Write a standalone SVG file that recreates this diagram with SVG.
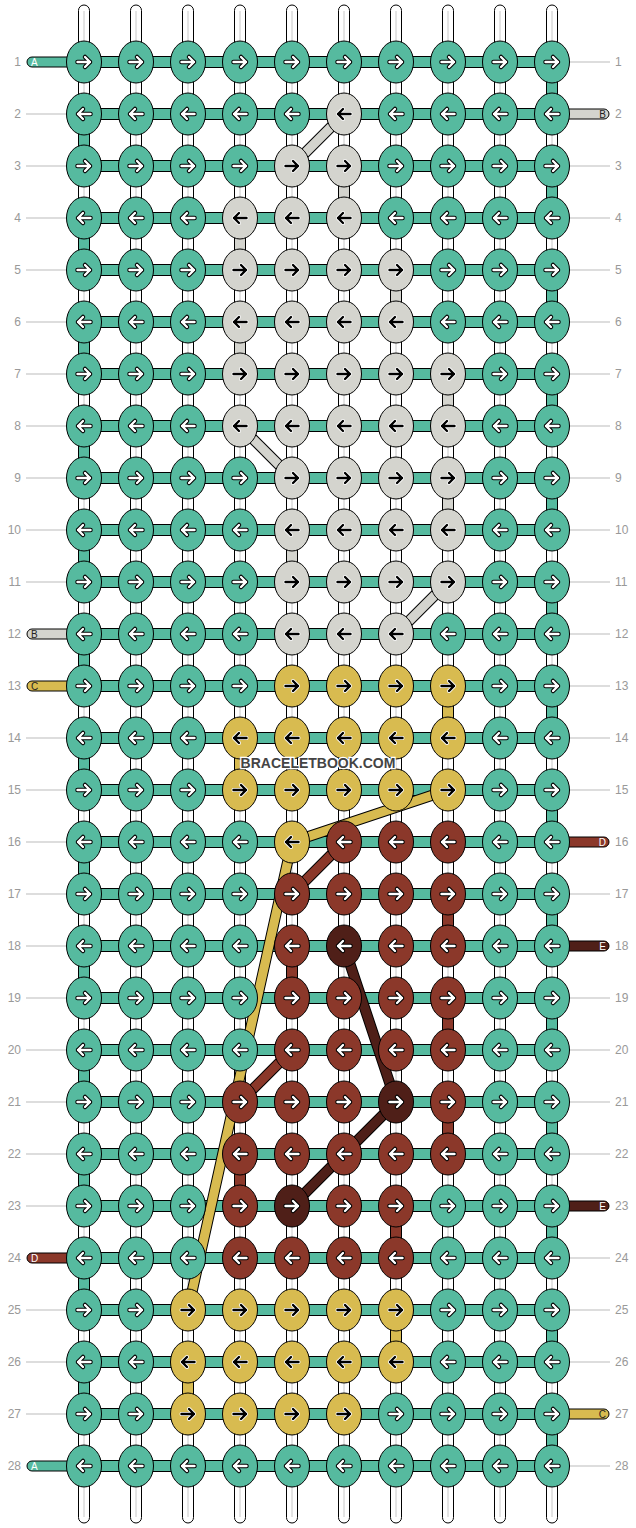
<svg xmlns="http://www.w3.org/2000/svg" xmlns:xlink="http://www.w3.org/1999/xlink" width="636" height="1528" viewBox="0 0 636 1528">
<style>
.t{fill:#56BA9F}.g{fill:#D4D4CE}.y{fill:#D8BB50}.r{fill:#8B382A}.d{fill:#4F1F18}
.ln{font-family:"Liberation Sans",Arial,sans-serif;font-size:12px;fill:#999}
.le{text-anchor:end}
.gl{stroke:#bbb;stroke-width:1}
.wp{fill:#fff;stroke:#000;stroke-width:1}
.wc{stroke:#c8c8c8;stroke-width:1}
.hb{fill:#56BA9F;stroke:#000;stroke-width:1}
.vs{stroke:#000;stroke-width:1}
.tl{stroke:#000;stroke-width:1}
.tt{font-family:"Liberation Sans",Arial,sans-serif;font-size:10px}
.ko{fill:none;stroke:#000;stroke-width:11;stroke-linejoin:round}
.kg{fill:none;stroke:#D4D4CE;stroke-width:9;stroke-linejoin:round}
.ky{fill:none;stroke:#D8BB50;stroke-width:9;stroke-linejoin:round}
.kr{fill:none;stroke:#8B382A;stroke-width:9;stroke-linejoin:round}
.kd{fill:none;stroke:#4F1F18;stroke-width:9;stroke-linejoin:round}
.wm{font-family:"Liberation Sans",Arial,sans-serif;font-size:14px;font-weight:bold;fill:#444;stroke:#fff;stroke-width:2.5;paint-order:stroke;text-anchor:middle}
</style>
<defs>
<ellipse id="E" cx="0" cy="0" rx="17.5" ry="21" stroke="#000" stroke-width="1"/>
<g id="Rw" fill="none" stroke-linecap="round" stroke-linejoin="round"><path d="M-6.5,0H6M1,-5L6,0L1,5" stroke="#000" stroke-width="4.5"/><path d="M-6.5,0H6M1,-5L6,0L1,5" stroke="#fff" stroke-width="2.4"/></g>
<g id="Lw" fill="none" stroke-linecap="round" stroke-linejoin="round"><path d="M6.5,0H-6M-1,-5L-6,0L-1,5" stroke="#000" stroke-width="4.5"/><path d="M6.5,0H-6M-1,-5L-6,0L-1,5" stroke="#fff" stroke-width="2.4"/></g>
<g id="Rb" fill="none" stroke-linecap="round" stroke-linejoin="round"><path d="M-6.5,0H6M1,-5L6,0L1,5" stroke="#fff" stroke-width="4"/><path d="M-6.5,0H6M1,-5L6,0L1,5" stroke="#000" stroke-width="2.4"/></g>
<g id="Lb" fill="none" stroke-linecap="round" stroke-linejoin="round"><path d="M6.5,0H-6M-1,-5L-6,0L-1,5" stroke="#fff" stroke-width="4"/><path d="M6.5,0H-6M-1,-5L-6,0L-1,5" stroke="#000" stroke-width="2.4"/></g>
</defs>
<rect width="636" height="1528" fill="#fff"/>
<g id="labels">
<text class="ln le" x="21" y="66">1</text><text class="ln le" x="21" y="118">2</text><text class="ln le" x="21" y="170">3</text><text class="ln le" x="21" y="222">4</text><text class="ln le" x="21" y="274">5</text><text class="ln le" x="21" y="326">6</text><text class="ln le" x="21" y="378">7</text><text class="ln le" x="21" y="430">8</text><text class="ln le" x="21" y="482">9</text><text class="ln le" x="21" y="534">10</text><text class="ln le" x="21" y="586">11</text><text class="ln le" x="21" y="638">12</text><text class="ln le" x="21" y="690">13</text><text class="ln le" x="21" y="742">14</text><text class="ln le" x="21" y="794">15</text><text class="ln le" x="21" y="846">16</text><text class="ln le" x="21" y="898">17</text><text class="ln le" x="21" y="950">18</text><text class="ln le" x="21" y="1002">19</text><text class="ln le" x="21" y="1054">20</text><text class="ln le" x="21" y="1106">21</text><text class="ln le" x="21" y="1158">22</text><text class="ln le" x="21" y="1210">23</text><text class="ln le" x="21" y="1262">24</text><text class="ln le" x="21" y="1314">25</text><text class="ln le" x="21" y="1366">26</text><text class="ln le" x="21" y="1418">27</text><text class="ln le" x="21" y="1470">28</text>
<text class="ln" x="615" y="66">1</text><text class="ln" x="615" y="118">2</text><text class="ln" x="615" y="170">3</text><text class="ln" x="615" y="222">4</text><text class="ln" x="615" y="274">5</text><text class="ln" x="615" y="326">6</text><text class="ln" x="615" y="378">7</text><text class="ln" x="615" y="430">8</text><text class="ln" x="615" y="482">9</text><text class="ln" x="615" y="534">10</text><text class="ln" x="615" y="586">11</text><text class="ln" x="615" y="638">12</text><text class="ln" x="615" y="690">13</text><text class="ln" x="615" y="742">14</text><text class="ln" x="615" y="794">15</text><text class="ln" x="615" y="846">16</text><text class="ln" x="615" y="898">17</text><text class="ln" x="615" y="950">18</text><text class="ln" x="615" y="1002">19</text><text class="ln" x="615" y="1054">20</text><text class="ln" x="615" y="1106">21</text><text class="ln" x="615" y="1158">22</text><text class="ln" x="615" y="1210">23</text><text class="ln" x="615" y="1262">24</text><text class="ln" x="615" y="1314">25</text><text class="ln" x="615" y="1366">26</text><text class="ln" x="615" y="1418">27</text><text class="ln" x="615" y="1470">28</text>
<path class="gl" d="M26,114H66M26,166H66M26,218H66M26,270H66M26,322H66M26,374H66M26,426H66M26,478H66M26,530H66M26,582H66M26,738H66M26,790H66M26,842H66M26,894H66M26,946H66M26,998H66M26,1050H66M26,1102H66M26,1154H66M26,1206H66M26,1310H66M26,1362H66M26,1414H66"/>
<path class="gl" d="M570,62H610M570,166H610M570,218H610M570,270H610M570,322H610M570,374H610M570,426H610M570,478H610M570,530H610M570,582H610M570,634H610M570,686H610M570,738H610M570,790H610M570,894H610M570,998H610M570,1050H610M570,1102H610M570,1154H610M570,1258H610M570,1310H610M570,1362H610M570,1466H610"/>
</g>
<g id="connectors">
<g id="warps">
<rect class="wp" x="78.5" y="5" width="11" height="1518" rx="5.5"/><rect class="wp" x="130.5" y="5" width="11" height="1518" rx="5.5"/><rect class="wp" x="182.5" y="5" width="11" height="1518" rx="5.5"/><rect class="wp" x="234.5" y="5" width="11" height="1518" rx="5.5"/><rect class="wp" x="286.5" y="5" width="11" height="1518" rx="5.5"/><rect class="wp" x="338.5" y="5" width="11" height="1518" rx="5.5"/><rect class="wp" x="390.5" y="5" width="11" height="1518" rx="5.5"/><rect class="wp" x="442.5" y="5" width="11" height="1518" rx="5.5"/><rect class="wp" x="494.5" y="5" width="11" height="1518" rx="5.5"/><rect class="wp" x="546.5" y="5" width="11" height="1518" rx="5.5"/>
<path class="wc" d="M84,11V1517M136,11V1517M188,11V1517M240,11V1517M292,11V1517M344,11V1517M396,11V1517M448,11V1517M500,11V1517M552,11V1517"/>
</g>
<g id="tails">
<rect class="tl t" x="27" y="57" width="62" height="10" rx="5"/><text class="tt" x="31" y="65.5" fill="#fff">A</text>
<rect class="tl g" x="27" y="629" width="62" height="10" rx="5"/><text class="tt" x="31" y="637.5" fill="#222">B</text>
<rect class="tl y" x="27" y="681" width="62" height="10" rx="5"/><text class="tt" x="31" y="689.5" fill="#222">C</text>
<rect class="tl r" x="27" y="1253" width="62" height="10" rx="5"/><text class="tt" x="31" y="1261.5" fill="#fff">D</text>
<rect class="tl t" x="27" y="1461" width="62" height="10" rx="5"/><text class="tt" x="31" y="1469.5" fill="#fff">A</text>
<rect class="tl g" x="547" y="109" width="62" height="10" rx="5"/><text class="tt" x="606" y="117.5" fill="#222" text-anchor="end">B</text>
<rect class="tl r" x="547" y="837" width="62" height="10" rx="5"/><text class="tt" x="606" y="845.5" fill="#fff" text-anchor="end">D</text>
<rect class="tl d" x="547" y="941" width="62" height="10" rx="5"/><text class="tt" x="606" y="949.5" fill="#fff" text-anchor="end">E</text>
<rect class="tl d" x="547" y="1201" width="62" height="10" rx="5"/><text class="tt" x="606" y="1209.5" fill="#fff" text-anchor="end">E</text>
<rect class="tl y" x="547" y="1409" width="62" height="10" rx="5"/><text class="tt" x="606" y="1417.5" fill="#222" text-anchor="end">C</text>
</g>
<g id="rows">
<rect class="hb" x="84" y="56.5" width="468" height="11"/><rect class="hb" x="84" y="108.5" width="468" height="11"/><rect class="hb" x="84" y="160.5" width="468" height="11"/><rect class="hb" x="84" y="212.5" width="468" height="11"/><rect class="hb" x="84" y="264.5" width="468" height="11"/><rect class="hb" x="84" y="316.5" width="468" height="11"/><rect class="hb" x="84" y="368.5" width="468" height="11"/><rect class="hb" x="84" y="420.5" width="468" height="11"/><rect class="hb" x="84" y="472.5" width="468" height="11"/><rect class="hb" x="84" y="524.5" width="468" height="11"/><rect class="hb" x="84" y="576.5" width="468" height="11"/><rect class="hb" x="84" y="628.5" width="468" height="11"/><rect class="hb" x="84" y="680.5" width="468" height="11"/><rect class="hb" x="84" y="732.5" width="468" height="11"/><rect class="hb" x="84" y="784.5" width="468" height="11"/><rect class="hb" x="84" y="836.5" width="468" height="11"/><rect class="hb" x="84" y="888.5" width="468" height="11"/><rect class="hb" x="84" y="940.5" width="468" height="11"/><rect class="hb" x="84" y="992.5" width="468" height="11"/><rect class="hb" x="84" y="1044.5" width="468" height="11"/><rect class="hb" x="84" y="1096.5" width="468" height="11"/><rect class="hb" x="84" y="1148.5" width="468" height="11"/><rect class="hb" x="84" y="1200.5" width="468" height="11"/><rect class="hb" x="84" y="1252.5" width="468" height="11"/><rect class="hb" x="84" y="1304.5" width="468" height="11"/><rect class="hb" x="84" y="1356.5" width="468" height="11"/><rect class="hb" x="84" y="1408.5" width="468" height="11"/><rect class="hb" x="84" y="1460.5" width="468" height="11"/>
</g>
<g id="turns">
<rect class="vs t" x="546.5" y="62" width="11" height="52"/><rect class="vs t" x="546.5" y="166" width="11" height="52"/><rect class="vs t" x="546.5" y="270" width="11" height="52"/><rect class="vs t" x="546.5" y="374" width="11" height="52"/><rect class="vs t" x="546.5" y="478" width="11" height="52"/><rect class="vs t" x="546.5" y="582" width="11" height="52"/><rect class="vs t" x="546.5" y="686" width="11" height="52"/><rect class="vs t" x="546.5" y="790" width="11" height="52"/><rect class="vs t" x="546.5" y="894" width="11" height="52"/><rect class="vs t" x="546.5" y="998" width="11" height="52"/><rect class="vs t" x="546.5" y="1102" width="11" height="52"/><rect class="vs t" x="546.5" y="1206" width="11" height="52"/><rect class="vs t" x="546.5" y="1310" width="11" height="52"/><rect class="vs t" x="546.5" y="1414" width="11" height="52"/>
<rect class="vs t" x="78.5" y="114" width="11" height="52"/><rect class="vs t" x="78.5" y="218" width="11" height="52"/><rect class="vs t" x="78.5" y="322" width="11" height="52"/><rect class="vs t" x="78.5" y="426" width="11" height="52"/><rect class="vs t" x="78.5" y="530" width="11" height="52"/><rect class="vs t" x="78.5" y="634" width="11" height="52"/><rect class="vs t" x="78.5" y="738" width="11" height="52"/><rect class="vs t" x="78.5" y="842" width="11" height="52"/><rect class="vs t" x="78.5" y="946" width="11" height="52"/><rect class="vs t" x="78.5" y="1050" width="11" height="52"/><rect class="vs t" x="78.5" y="1154" width="11" height="52"/><rect class="vs t" x="78.5" y="1258" width="11" height="52"/><rect class="vs t" x="78.5" y="1362" width="11" height="52"/>
<rect class="vs g" x="338.5" y="166" width="11" height="52"/><rect class="vs g" x="234.5" y="218" width="11" height="52"/><rect class="vs g" x="390.5" y="270" width="11" height="52"/><rect class="vs g" x="234.5" y="322" width="11" height="52"/><rect class="vs g" x="442.5" y="374" width="11" height="52"/><rect class="vs g" x="442.5" y="478" width="11" height="52"/><rect class="vs g" x="286.5" y="530" width="11" height="52"/>
<rect class="vs y" x="442.5" y="686" width="11" height="52"/><rect class="vs y" x="234.5" y="738" width="11" height="52"/><rect class="vs y" x="390.5" y="1310" width="11" height="52"/><rect class="vs y" x="182.5" y="1362" width="11" height="52"/>
<rect class="vs r" x="442.5" y="894" width="11" height="52"/><rect class="vs r" x="286.5" y="946" width="11" height="52"/><rect class="vs r" x="442.5" y="998" width="11" height="52"/><rect class="vs r" x="442.5" y="1102" width="11" height="52"/><rect class="vs r" x="234.5" y="1154" width="11" height="52"/><rect class="vs r" x="390.5" y="1206" width="11" height="52"/>
</g>
<g id="diagonals">
<path class="ko" d="M344,114L292,166"/><path class="kg" d="M344,114L292,166"/>
<path class="ko" d="M240,426L292,478"/><path class="kg" d="M240,426L292,478"/>
<path class="ko" d="M448,582L396,634"/><path class="kg" d="M448,582L396,634"/>
<path class="ko" d="M448,790L292,842L188,1310"/><path class="ky" d="M448,790L292,842L188,1310"/>
<path class="ko" d="M344,842L292,894"/><path class="kr" d="M344,842L292,894"/>
<path class="ko" d="M292,1050L240,1102"/><path class="kr" d="M292,1050L240,1102"/>
<path class="ko" d="M344,946L396,1102L292,1206"/><path class="kd" d="M344,946L396,1102L292,1206"/>
</g>
</g>
<g id="nodes">
<g id="n1-1"><use href="#E" x="84" y="62" class="t"/><use href="#Rw" x="84" y="62"/></g><g id="n1-2"><use href="#E" x="136" y="62" class="t"/><use href="#Rw" x="136" y="62"/></g><g id="n1-3"><use href="#E" x="188" y="62" class="t"/><use href="#Rw" x="188" y="62"/></g><g id="n1-4"><use href="#E" x="240" y="62" class="t"/><use href="#Rw" x="240" y="62"/></g><g id="n1-5"><use href="#E" x="292" y="62" class="t"/><use href="#Rw" x="292" y="62"/></g><g id="n1-6"><use href="#E" x="344" y="62" class="t"/><use href="#Rw" x="344" y="62"/></g><g id="n1-7"><use href="#E" x="396" y="62" class="t"/><use href="#Rw" x="396" y="62"/></g><g id="n1-8"><use href="#E" x="448" y="62" class="t"/><use href="#Rw" x="448" y="62"/></g><g id="n1-9"><use href="#E" x="500" y="62" class="t"/><use href="#Rw" x="500" y="62"/></g><g id="n1-10"><use href="#E" x="552" y="62" class="t"/><use href="#Rw" x="552" y="62"/></g>
<g id="n2-1"><use href="#E" x="84" y="114" class="t"/><use href="#Lw" x="84" y="114"/></g><g id="n2-2"><use href="#E" x="136" y="114" class="t"/><use href="#Lw" x="136" y="114"/></g><g id="n2-3"><use href="#E" x="188" y="114" class="t"/><use href="#Lw" x="188" y="114"/></g><g id="n2-4"><use href="#E" x="240" y="114" class="t"/><use href="#Lw" x="240" y="114"/></g><g id="n2-5"><use href="#E" x="292" y="114" class="t"/><use href="#Lw" x="292" y="114"/></g><g id="n2-6"><use href="#E" x="344" y="114" class="g"/><use href="#Lb" x="344" y="114"/></g><g id="n2-7"><use href="#E" x="396" y="114" class="t"/><use href="#Lw" x="396" y="114"/></g><g id="n2-8"><use href="#E" x="448" y="114" class="t"/><use href="#Lw" x="448" y="114"/></g><g id="n2-9"><use href="#E" x="500" y="114" class="t"/><use href="#Lw" x="500" y="114"/></g><g id="n2-10"><use href="#E" x="552" y="114" class="t"/><use href="#Lw" x="552" y="114"/></g>
<g id="n3-1"><use href="#E" x="84" y="166" class="t"/><use href="#Rw" x="84" y="166"/></g><g id="n3-2"><use href="#E" x="136" y="166" class="t"/><use href="#Rw" x="136" y="166"/></g><g id="n3-3"><use href="#E" x="188" y="166" class="t"/><use href="#Rw" x="188" y="166"/></g><g id="n3-4"><use href="#E" x="240" y="166" class="t"/><use href="#Rw" x="240" y="166"/></g><g id="n3-5"><use href="#E" x="292" y="166" class="g"/><use href="#Rb" x="292" y="166"/></g><g id="n3-6"><use href="#E" x="344" y="166" class="g"/><use href="#Rb" x="344" y="166"/></g><g id="n3-7"><use href="#E" x="396" y="166" class="t"/><use href="#Rw" x="396" y="166"/></g><g id="n3-8"><use href="#E" x="448" y="166" class="t"/><use href="#Rw" x="448" y="166"/></g><g id="n3-9"><use href="#E" x="500" y="166" class="t"/><use href="#Rw" x="500" y="166"/></g><g id="n3-10"><use href="#E" x="552" y="166" class="t"/><use href="#Rw" x="552" y="166"/></g>
<g id="n4-1"><use href="#E" x="84" y="218" class="t"/><use href="#Lw" x="84" y="218"/></g><g id="n4-2"><use href="#E" x="136" y="218" class="t"/><use href="#Lw" x="136" y="218"/></g><g id="n4-3"><use href="#E" x="188" y="218" class="t"/><use href="#Lw" x="188" y="218"/></g><g id="n4-4"><use href="#E" x="240" y="218" class="g"/><use href="#Lb" x="240" y="218"/></g><g id="n4-5"><use href="#E" x="292" y="218" class="g"/><use href="#Lb" x="292" y="218"/></g><g id="n4-6"><use href="#E" x="344" y="218" class="g"/><use href="#Lb" x="344" y="218"/></g><g id="n4-7"><use href="#E" x="396" y="218" class="t"/><use href="#Lw" x="396" y="218"/></g><g id="n4-8"><use href="#E" x="448" y="218" class="t"/><use href="#Lw" x="448" y="218"/></g><g id="n4-9"><use href="#E" x="500" y="218" class="t"/><use href="#Lw" x="500" y="218"/></g><g id="n4-10"><use href="#E" x="552" y="218" class="t"/><use href="#Lw" x="552" y="218"/></g>
<g id="n5-1"><use href="#E" x="84" y="270" class="t"/><use href="#Rw" x="84" y="270"/></g><g id="n5-2"><use href="#E" x="136" y="270" class="t"/><use href="#Rw" x="136" y="270"/></g><g id="n5-3"><use href="#E" x="188" y="270" class="t"/><use href="#Rw" x="188" y="270"/></g><g id="n5-4"><use href="#E" x="240" y="270" class="g"/><use href="#Rb" x="240" y="270"/></g><g id="n5-5"><use href="#E" x="292" y="270" class="g"/><use href="#Rb" x="292" y="270"/></g><g id="n5-6"><use href="#E" x="344" y="270" class="g"/><use href="#Rb" x="344" y="270"/></g><g id="n5-7"><use href="#E" x="396" y="270" class="g"/><use href="#Rb" x="396" y="270"/></g><g id="n5-8"><use href="#E" x="448" y="270" class="t"/><use href="#Rw" x="448" y="270"/></g><g id="n5-9"><use href="#E" x="500" y="270" class="t"/><use href="#Rw" x="500" y="270"/></g><g id="n5-10"><use href="#E" x="552" y="270" class="t"/><use href="#Rw" x="552" y="270"/></g>
<g id="n6-1"><use href="#E" x="84" y="322" class="t"/><use href="#Lw" x="84" y="322"/></g><g id="n6-2"><use href="#E" x="136" y="322" class="t"/><use href="#Lw" x="136" y="322"/></g><g id="n6-3"><use href="#E" x="188" y="322" class="t"/><use href="#Lw" x="188" y="322"/></g><g id="n6-4"><use href="#E" x="240" y="322" class="g"/><use href="#Lb" x="240" y="322"/></g><g id="n6-5"><use href="#E" x="292" y="322" class="g"/><use href="#Lb" x="292" y="322"/></g><g id="n6-6"><use href="#E" x="344" y="322" class="g"/><use href="#Lb" x="344" y="322"/></g><g id="n6-7"><use href="#E" x="396" y="322" class="g"/><use href="#Lb" x="396" y="322"/></g><g id="n6-8"><use href="#E" x="448" y="322" class="t"/><use href="#Lw" x="448" y="322"/></g><g id="n6-9"><use href="#E" x="500" y="322" class="t"/><use href="#Lw" x="500" y="322"/></g><g id="n6-10"><use href="#E" x="552" y="322" class="t"/><use href="#Lw" x="552" y="322"/></g>
<g id="n7-1"><use href="#E" x="84" y="374" class="t"/><use href="#Rw" x="84" y="374"/></g><g id="n7-2"><use href="#E" x="136" y="374" class="t"/><use href="#Rw" x="136" y="374"/></g><g id="n7-3"><use href="#E" x="188" y="374" class="t"/><use href="#Rw" x="188" y="374"/></g><g id="n7-4"><use href="#E" x="240" y="374" class="g"/><use href="#Rb" x="240" y="374"/></g><g id="n7-5"><use href="#E" x="292" y="374" class="g"/><use href="#Rb" x="292" y="374"/></g><g id="n7-6"><use href="#E" x="344" y="374" class="g"/><use href="#Rb" x="344" y="374"/></g><g id="n7-7"><use href="#E" x="396" y="374" class="g"/><use href="#Rb" x="396" y="374"/></g><g id="n7-8"><use href="#E" x="448" y="374" class="g"/><use href="#Rb" x="448" y="374"/></g><g id="n7-9"><use href="#E" x="500" y="374" class="t"/><use href="#Rw" x="500" y="374"/></g><g id="n7-10"><use href="#E" x="552" y="374" class="t"/><use href="#Rw" x="552" y="374"/></g>
<g id="n8-1"><use href="#E" x="84" y="426" class="t"/><use href="#Lw" x="84" y="426"/></g><g id="n8-2"><use href="#E" x="136" y="426" class="t"/><use href="#Lw" x="136" y="426"/></g><g id="n8-3"><use href="#E" x="188" y="426" class="t"/><use href="#Lw" x="188" y="426"/></g><g id="n8-4"><use href="#E" x="240" y="426" class="g"/><use href="#Lb" x="240" y="426"/></g><g id="n8-5"><use href="#E" x="292" y="426" class="g"/><use href="#Lb" x="292" y="426"/></g><g id="n8-6"><use href="#E" x="344" y="426" class="g"/><use href="#Lb" x="344" y="426"/></g><g id="n8-7"><use href="#E" x="396" y="426" class="g"/><use href="#Lb" x="396" y="426"/></g><g id="n8-8"><use href="#E" x="448" y="426" class="g"/><use href="#Lb" x="448" y="426"/></g><g id="n8-9"><use href="#E" x="500" y="426" class="t"/><use href="#Lw" x="500" y="426"/></g><g id="n8-10"><use href="#E" x="552" y="426" class="t"/><use href="#Lw" x="552" y="426"/></g>
<g id="n9-1"><use href="#E" x="84" y="478" class="t"/><use href="#Rw" x="84" y="478"/></g><g id="n9-2"><use href="#E" x="136" y="478" class="t"/><use href="#Rw" x="136" y="478"/></g><g id="n9-3"><use href="#E" x="188" y="478" class="t"/><use href="#Rw" x="188" y="478"/></g><g id="n9-4"><use href="#E" x="240" y="478" class="t"/><use href="#Rw" x="240" y="478"/></g><g id="n9-5"><use href="#E" x="292" y="478" class="g"/><use href="#Rb" x="292" y="478"/></g><g id="n9-6"><use href="#E" x="344" y="478" class="g"/><use href="#Rb" x="344" y="478"/></g><g id="n9-7"><use href="#E" x="396" y="478" class="g"/><use href="#Rb" x="396" y="478"/></g><g id="n9-8"><use href="#E" x="448" y="478" class="g"/><use href="#Rb" x="448" y="478"/></g><g id="n9-9"><use href="#E" x="500" y="478" class="t"/><use href="#Rw" x="500" y="478"/></g><g id="n9-10"><use href="#E" x="552" y="478" class="t"/><use href="#Rw" x="552" y="478"/></g>
<g id="n10-1"><use href="#E" x="84" y="530" class="t"/><use href="#Lw" x="84" y="530"/></g><g id="n10-2"><use href="#E" x="136" y="530" class="t"/><use href="#Lw" x="136" y="530"/></g><g id="n10-3"><use href="#E" x="188" y="530" class="t"/><use href="#Lw" x="188" y="530"/></g><g id="n10-4"><use href="#E" x="240" y="530" class="t"/><use href="#Lw" x="240" y="530"/></g><g id="n10-5"><use href="#E" x="292" y="530" class="g"/><use href="#Lb" x="292" y="530"/></g><g id="n10-6"><use href="#E" x="344" y="530" class="g"/><use href="#Lb" x="344" y="530"/></g><g id="n10-7"><use href="#E" x="396" y="530" class="g"/><use href="#Lb" x="396" y="530"/></g><g id="n10-8"><use href="#E" x="448" y="530" class="g"/><use href="#Lb" x="448" y="530"/></g><g id="n10-9"><use href="#E" x="500" y="530" class="t"/><use href="#Lw" x="500" y="530"/></g><g id="n10-10"><use href="#E" x="552" y="530" class="t"/><use href="#Lw" x="552" y="530"/></g>
<g id="n11-1"><use href="#E" x="84" y="582" class="t"/><use href="#Rw" x="84" y="582"/></g><g id="n11-2"><use href="#E" x="136" y="582" class="t"/><use href="#Rw" x="136" y="582"/></g><g id="n11-3"><use href="#E" x="188" y="582" class="t"/><use href="#Rw" x="188" y="582"/></g><g id="n11-4"><use href="#E" x="240" y="582" class="t"/><use href="#Rw" x="240" y="582"/></g><g id="n11-5"><use href="#E" x="292" y="582" class="g"/><use href="#Rb" x="292" y="582"/></g><g id="n11-6"><use href="#E" x="344" y="582" class="g"/><use href="#Rb" x="344" y="582"/></g><g id="n11-7"><use href="#E" x="396" y="582" class="g"/><use href="#Rb" x="396" y="582"/></g><g id="n11-8"><use href="#E" x="448" y="582" class="g"/><use href="#Rb" x="448" y="582"/></g><g id="n11-9"><use href="#E" x="500" y="582" class="t"/><use href="#Rw" x="500" y="582"/></g><g id="n11-10"><use href="#E" x="552" y="582" class="t"/><use href="#Rw" x="552" y="582"/></g>
<g id="n12-1"><use href="#E" x="84" y="634" class="t"/><use href="#Lw" x="84" y="634"/></g><g id="n12-2"><use href="#E" x="136" y="634" class="t"/><use href="#Lw" x="136" y="634"/></g><g id="n12-3"><use href="#E" x="188" y="634" class="t"/><use href="#Lw" x="188" y="634"/></g><g id="n12-4"><use href="#E" x="240" y="634" class="t"/><use href="#Lw" x="240" y="634"/></g><g id="n12-5"><use href="#E" x="292" y="634" class="g"/><use href="#Lb" x="292" y="634"/></g><g id="n12-6"><use href="#E" x="344" y="634" class="g"/><use href="#Lb" x="344" y="634"/></g><g id="n12-7"><use href="#E" x="396" y="634" class="g"/><use href="#Lb" x="396" y="634"/></g><g id="n12-8"><use href="#E" x="448" y="634" class="t"/><use href="#Lw" x="448" y="634"/></g><g id="n12-9"><use href="#E" x="500" y="634" class="t"/><use href="#Lw" x="500" y="634"/></g><g id="n12-10"><use href="#E" x="552" y="634" class="t"/><use href="#Lw" x="552" y="634"/></g>
<g id="n13-1"><use href="#E" x="84" y="686" class="t"/><use href="#Rw" x="84" y="686"/></g><g id="n13-2"><use href="#E" x="136" y="686" class="t"/><use href="#Rw" x="136" y="686"/></g><g id="n13-3"><use href="#E" x="188" y="686" class="t"/><use href="#Rw" x="188" y="686"/></g><g id="n13-4"><use href="#E" x="240" y="686" class="t"/><use href="#Rw" x="240" y="686"/></g><g id="n13-5"><use href="#E" x="292" y="686" class="y"/><use href="#Rb" x="292" y="686"/></g><g id="n13-6"><use href="#E" x="344" y="686" class="y"/><use href="#Rb" x="344" y="686"/></g><g id="n13-7"><use href="#E" x="396" y="686" class="y"/><use href="#Rb" x="396" y="686"/></g><g id="n13-8"><use href="#E" x="448" y="686" class="y"/><use href="#Rb" x="448" y="686"/></g><g id="n13-9"><use href="#E" x="500" y="686" class="t"/><use href="#Rw" x="500" y="686"/></g><g id="n13-10"><use href="#E" x="552" y="686" class="t"/><use href="#Rw" x="552" y="686"/></g>
<g id="n14-1"><use href="#E" x="84" y="738" class="t"/><use href="#Lw" x="84" y="738"/></g><g id="n14-2"><use href="#E" x="136" y="738" class="t"/><use href="#Lw" x="136" y="738"/></g><g id="n14-3"><use href="#E" x="188" y="738" class="t"/><use href="#Lw" x="188" y="738"/></g><g id="n14-4"><use href="#E" x="240" y="738" class="y"/><use href="#Lb" x="240" y="738"/></g><g id="n14-5"><use href="#E" x="292" y="738" class="y"/><use href="#Lb" x="292" y="738"/></g><g id="n14-6"><use href="#E" x="344" y="738" class="y"/><use href="#Lb" x="344" y="738"/></g><g id="n14-7"><use href="#E" x="396" y="738" class="y"/><use href="#Lb" x="396" y="738"/></g><g id="n14-8"><use href="#E" x="448" y="738" class="y"/><use href="#Lb" x="448" y="738"/></g><g id="n14-9"><use href="#E" x="500" y="738" class="t"/><use href="#Lw" x="500" y="738"/></g><g id="n14-10"><use href="#E" x="552" y="738" class="t"/><use href="#Lw" x="552" y="738"/></g>
<g id="n15-1"><use href="#E" x="84" y="790" class="t"/><use href="#Rw" x="84" y="790"/></g><g id="n15-2"><use href="#E" x="136" y="790" class="t"/><use href="#Rw" x="136" y="790"/></g><g id="n15-3"><use href="#E" x="188" y="790" class="t"/><use href="#Rw" x="188" y="790"/></g><g id="n15-4"><use href="#E" x="240" y="790" class="y"/><use href="#Rb" x="240" y="790"/></g><g id="n15-5"><use href="#E" x="292" y="790" class="y"/><use href="#Rb" x="292" y="790"/></g><g id="n15-6"><use href="#E" x="344" y="790" class="y"/><use href="#Rb" x="344" y="790"/></g><g id="n15-7"><use href="#E" x="396" y="790" class="y"/><use href="#Rb" x="396" y="790"/></g><g id="n15-8"><use href="#E" x="448" y="790" class="y"/><use href="#Rb" x="448" y="790"/></g><g id="n15-9"><use href="#E" x="500" y="790" class="t"/><use href="#Rw" x="500" y="790"/></g><g id="n15-10"><use href="#E" x="552" y="790" class="t"/><use href="#Rw" x="552" y="790"/></g>
<g id="n16-1"><use href="#E" x="84" y="842" class="t"/><use href="#Lw" x="84" y="842"/></g><g id="n16-2"><use href="#E" x="136" y="842" class="t"/><use href="#Lw" x="136" y="842"/></g><g id="n16-3"><use href="#E" x="188" y="842" class="t"/><use href="#Lw" x="188" y="842"/></g><g id="n16-4"><use href="#E" x="240" y="842" class="t"/><use href="#Lw" x="240" y="842"/></g><g id="n16-5"><use href="#E" x="292" y="842" class="y"/><use href="#Lb" x="292" y="842"/></g><g id="n16-6"><use href="#E" x="344" y="842" class="r"/><use href="#Lw" x="344" y="842"/></g><g id="n16-7"><use href="#E" x="396" y="842" class="r"/><use href="#Lw" x="396" y="842"/></g><g id="n16-8"><use href="#E" x="448" y="842" class="r"/><use href="#Lw" x="448" y="842"/></g><g id="n16-9"><use href="#E" x="500" y="842" class="t"/><use href="#Lw" x="500" y="842"/></g><g id="n16-10"><use href="#E" x="552" y="842" class="t"/><use href="#Lw" x="552" y="842"/></g>
<g id="n17-1"><use href="#E" x="84" y="894" class="t"/><use href="#Rw" x="84" y="894"/></g><g id="n17-2"><use href="#E" x="136" y="894" class="t"/><use href="#Rw" x="136" y="894"/></g><g id="n17-3"><use href="#E" x="188" y="894" class="t"/><use href="#Rw" x="188" y="894"/></g><g id="n17-4"><use href="#E" x="240" y="894" class="t"/><use href="#Rw" x="240" y="894"/></g><g id="n17-5"><use href="#E" x="292" y="894" class="r"/><use href="#Rw" x="292" y="894"/></g><g id="n17-6"><use href="#E" x="344" y="894" class="r"/><use href="#Rw" x="344" y="894"/></g><g id="n17-7"><use href="#E" x="396" y="894" class="r"/><use href="#Rw" x="396" y="894"/></g><g id="n17-8"><use href="#E" x="448" y="894" class="r"/><use href="#Rw" x="448" y="894"/></g><g id="n17-9"><use href="#E" x="500" y="894" class="t"/><use href="#Rw" x="500" y="894"/></g><g id="n17-10"><use href="#E" x="552" y="894" class="t"/><use href="#Rw" x="552" y="894"/></g>
<g id="n18-1"><use href="#E" x="84" y="946" class="t"/><use href="#Lw" x="84" y="946"/></g><g id="n18-2"><use href="#E" x="136" y="946" class="t"/><use href="#Lw" x="136" y="946"/></g><g id="n18-3"><use href="#E" x="188" y="946" class="t"/><use href="#Lw" x="188" y="946"/></g><g id="n18-4"><use href="#E" x="240" y="946" class="t"/><use href="#Lw" x="240" y="946"/></g><g id="n18-5"><use href="#E" x="292" y="946" class="r"/><use href="#Lw" x="292" y="946"/></g><g id="n18-6"><use href="#E" x="344" y="946" class="d"/><use href="#Lw" x="344" y="946"/></g><g id="n18-7"><use href="#E" x="396" y="946" class="r"/><use href="#Lw" x="396" y="946"/></g><g id="n18-8"><use href="#E" x="448" y="946" class="r"/><use href="#Lw" x="448" y="946"/></g><g id="n18-9"><use href="#E" x="500" y="946" class="t"/><use href="#Lw" x="500" y="946"/></g><g id="n18-10"><use href="#E" x="552" y="946" class="t"/><use href="#Lw" x="552" y="946"/></g>
<g id="n19-1"><use href="#E" x="84" y="998" class="t"/><use href="#Rw" x="84" y="998"/></g><g id="n19-2"><use href="#E" x="136" y="998" class="t"/><use href="#Rw" x="136" y="998"/></g><g id="n19-3"><use href="#E" x="188" y="998" class="t"/><use href="#Rw" x="188" y="998"/></g><g id="n19-4"><use href="#E" x="240" y="998" class="t"/><use href="#Rw" x="240" y="998"/></g><g id="n19-5"><use href="#E" x="292" y="998" class="r"/><use href="#Rw" x="292" y="998"/></g><g id="n19-6"><use href="#E" x="344" y="998" class="r"/><use href="#Rw" x="344" y="998"/></g><g id="n19-7"><use href="#E" x="396" y="998" class="r"/><use href="#Rw" x="396" y="998"/></g><g id="n19-8"><use href="#E" x="448" y="998" class="r"/><use href="#Rw" x="448" y="998"/></g><g id="n19-9"><use href="#E" x="500" y="998" class="t"/><use href="#Rw" x="500" y="998"/></g><g id="n19-10"><use href="#E" x="552" y="998" class="t"/><use href="#Rw" x="552" y="998"/></g>
<g id="n20-1"><use href="#E" x="84" y="1050" class="t"/><use href="#Lw" x="84" y="1050"/></g><g id="n20-2"><use href="#E" x="136" y="1050" class="t"/><use href="#Lw" x="136" y="1050"/></g><g id="n20-3"><use href="#E" x="188" y="1050" class="t"/><use href="#Lw" x="188" y="1050"/></g><g id="n20-4"><use href="#E" x="240" y="1050" class="t"/><use href="#Lw" x="240" y="1050"/></g><g id="n20-5"><use href="#E" x="292" y="1050" class="r"/><use href="#Lw" x="292" y="1050"/></g><g id="n20-6"><use href="#E" x="344" y="1050" class="r"/><use href="#Lw" x="344" y="1050"/></g><g id="n20-7"><use href="#E" x="396" y="1050" class="r"/><use href="#Lw" x="396" y="1050"/></g><g id="n20-8"><use href="#E" x="448" y="1050" class="r"/><use href="#Lw" x="448" y="1050"/></g><g id="n20-9"><use href="#E" x="500" y="1050" class="t"/><use href="#Lw" x="500" y="1050"/></g><g id="n20-10"><use href="#E" x="552" y="1050" class="t"/><use href="#Lw" x="552" y="1050"/></g>
<g id="n21-1"><use href="#E" x="84" y="1102" class="t"/><use href="#Rw" x="84" y="1102"/></g><g id="n21-2"><use href="#E" x="136" y="1102" class="t"/><use href="#Rw" x="136" y="1102"/></g><g id="n21-3"><use href="#E" x="188" y="1102" class="t"/><use href="#Rw" x="188" y="1102"/></g><g id="n21-4"><use href="#E" x="240" y="1102" class="r"/><use href="#Rw" x="240" y="1102"/></g><g id="n21-5"><use href="#E" x="292" y="1102" class="r"/><use href="#Rw" x="292" y="1102"/></g><g id="n21-6"><use href="#E" x="344" y="1102" class="r"/><use href="#Rw" x="344" y="1102"/></g><g id="n21-7"><use href="#E" x="396" y="1102" class="d"/><use href="#Rw" x="396" y="1102"/></g><g id="n21-8"><use href="#E" x="448" y="1102" class="r"/><use href="#Rw" x="448" y="1102"/></g><g id="n21-9"><use href="#E" x="500" y="1102" class="t"/><use href="#Rw" x="500" y="1102"/></g><g id="n21-10"><use href="#E" x="552" y="1102" class="t"/><use href="#Rw" x="552" y="1102"/></g>
<g id="n22-1"><use href="#E" x="84" y="1154" class="t"/><use href="#Lw" x="84" y="1154"/></g><g id="n22-2"><use href="#E" x="136" y="1154" class="t"/><use href="#Lw" x="136" y="1154"/></g><g id="n22-3"><use href="#E" x="188" y="1154" class="t"/><use href="#Lw" x="188" y="1154"/></g><g id="n22-4"><use href="#E" x="240" y="1154" class="r"/><use href="#Lw" x="240" y="1154"/></g><g id="n22-5"><use href="#E" x="292" y="1154" class="r"/><use href="#Lw" x="292" y="1154"/></g><g id="n22-6"><use href="#E" x="344" y="1154" class="r"/><use href="#Lw" x="344" y="1154"/></g><g id="n22-7"><use href="#E" x="396" y="1154" class="r"/><use href="#Lw" x="396" y="1154"/></g><g id="n22-8"><use href="#E" x="448" y="1154" class="r"/><use href="#Lw" x="448" y="1154"/></g><g id="n22-9"><use href="#E" x="500" y="1154" class="t"/><use href="#Lw" x="500" y="1154"/></g><g id="n22-10"><use href="#E" x="552" y="1154" class="t"/><use href="#Lw" x="552" y="1154"/></g>
<g id="n23-1"><use href="#E" x="84" y="1206" class="t"/><use href="#Rw" x="84" y="1206"/></g><g id="n23-2"><use href="#E" x="136" y="1206" class="t"/><use href="#Rw" x="136" y="1206"/></g><g id="n23-3"><use href="#E" x="188" y="1206" class="t"/><use href="#Rw" x="188" y="1206"/></g><g id="n23-4"><use href="#E" x="240" y="1206" class="r"/><use href="#Rw" x="240" y="1206"/></g><g id="n23-5"><use href="#E" x="292" y="1206" class="d"/><use href="#Rw" x="292" y="1206"/></g><g id="n23-6"><use href="#E" x="344" y="1206" class="r"/><use href="#Rw" x="344" y="1206"/></g><g id="n23-7"><use href="#E" x="396" y="1206" class="r"/><use href="#Rw" x="396" y="1206"/></g><g id="n23-8"><use href="#E" x="448" y="1206" class="t"/><use href="#Rw" x="448" y="1206"/></g><g id="n23-9"><use href="#E" x="500" y="1206" class="t"/><use href="#Rw" x="500" y="1206"/></g><g id="n23-10"><use href="#E" x="552" y="1206" class="t"/><use href="#Rw" x="552" y="1206"/></g>
<g id="n24-1"><use href="#E" x="84" y="1258" class="t"/><use href="#Lw" x="84" y="1258"/></g><g id="n24-2"><use href="#E" x="136" y="1258" class="t"/><use href="#Lw" x="136" y="1258"/></g><g id="n24-3"><use href="#E" x="188" y="1258" class="t"/><use href="#Lw" x="188" y="1258"/></g><g id="n24-4"><use href="#E" x="240" y="1258" class="r"/><use href="#Lw" x="240" y="1258"/></g><g id="n24-5"><use href="#E" x="292" y="1258" class="r"/><use href="#Lw" x="292" y="1258"/></g><g id="n24-6"><use href="#E" x="344" y="1258" class="r"/><use href="#Lw" x="344" y="1258"/></g><g id="n24-7"><use href="#E" x="396" y="1258" class="r"/><use href="#Lw" x="396" y="1258"/></g><g id="n24-8"><use href="#E" x="448" y="1258" class="t"/><use href="#Lw" x="448" y="1258"/></g><g id="n24-9"><use href="#E" x="500" y="1258" class="t"/><use href="#Lw" x="500" y="1258"/></g><g id="n24-10"><use href="#E" x="552" y="1258" class="t"/><use href="#Lw" x="552" y="1258"/></g>
<g id="n25-1"><use href="#E" x="84" y="1310" class="t"/><use href="#Rw" x="84" y="1310"/></g><g id="n25-2"><use href="#E" x="136" y="1310" class="t"/><use href="#Rw" x="136" y="1310"/></g><g id="n25-3"><use href="#E" x="188" y="1310" class="y"/><use href="#Rb" x="188" y="1310"/></g><g id="n25-4"><use href="#E" x="240" y="1310" class="y"/><use href="#Rb" x="240" y="1310"/></g><g id="n25-5"><use href="#E" x="292" y="1310" class="y"/><use href="#Rb" x="292" y="1310"/></g><g id="n25-6"><use href="#E" x="344" y="1310" class="y"/><use href="#Rb" x="344" y="1310"/></g><g id="n25-7"><use href="#E" x="396" y="1310" class="y"/><use href="#Rb" x="396" y="1310"/></g><g id="n25-8"><use href="#E" x="448" y="1310" class="t"/><use href="#Rw" x="448" y="1310"/></g><g id="n25-9"><use href="#E" x="500" y="1310" class="t"/><use href="#Rw" x="500" y="1310"/></g><g id="n25-10"><use href="#E" x="552" y="1310" class="t"/><use href="#Rw" x="552" y="1310"/></g>
<g id="n26-1"><use href="#E" x="84" y="1362" class="t"/><use href="#Lw" x="84" y="1362"/></g><g id="n26-2"><use href="#E" x="136" y="1362" class="t"/><use href="#Lw" x="136" y="1362"/></g><g id="n26-3"><use href="#E" x="188" y="1362" class="y"/><use href="#Lb" x="188" y="1362"/></g><g id="n26-4"><use href="#E" x="240" y="1362" class="y"/><use href="#Lb" x="240" y="1362"/></g><g id="n26-5"><use href="#E" x="292" y="1362" class="y"/><use href="#Lb" x="292" y="1362"/></g><g id="n26-6"><use href="#E" x="344" y="1362" class="y"/><use href="#Lb" x="344" y="1362"/></g><g id="n26-7"><use href="#E" x="396" y="1362" class="y"/><use href="#Lb" x="396" y="1362"/></g><g id="n26-8"><use href="#E" x="448" y="1362" class="t"/><use href="#Lw" x="448" y="1362"/></g><g id="n26-9"><use href="#E" x="500" y="1362" class="t"/><use href="#Lw" x="500" y="1362"/></g><g id="n26-10"><use href="#E" x="552" y="1362" class="t"/><use href="#Lw" x="552" y="1362"/></g>
<g id="n27-1"><use href="#E" x="84" y="1414" class="t"/><use href="#Rw" x="84" y="1414"/></g><g id="n27-2"><use href="#E" x="136" y="1414" class="t"/><use href="#Rw" x="136" y="1414"/></g><g id="n27-3"><use href="#E" x="188" y="1414" class="y"/><use href="#Rb" x="188" y="1414"/></g><g id="n27-4"><use href="#E" x="240" y="1414" class="y"/><use href="#Rb" x="240" y="1414"/></g><g id="n27-5"><use href="#E" x="292" y="1414" class="y"/><use href="#Rb" x="292" y="1414"/></g><g id="n27-6"><use href="#E" x="344" y="1414" class="y"/><use href="#Rb" x="344" y="1414"/></g><g id="n27-7"><use href="#E" x="396" y="1414" class="t"/><use href="#Rw" x="396" y="1414"/></g><g id="n27-8"><use href="#E" x="448" y="1414" class="t"/><use href="#Rw" x="448" y="1414"/></g><g id="n27-9"><use href="#E" x="500" y="1414" class="t"/><use href="#Rw" x="500" y="1414"/></g><g id="n27-10"><use href="#E" x="552" y="1414" class="t"/><use href="#Rw" x="552" y="1414"/></g>
<g id="n28-1"><use href="#E" x="84" y="1466" class="t"/><use href="#Lw" x="84" y="1466"/></g><g id="n28-2"><use href="#E" x="136" y="1466" class="t"/><use href="#Lw" x="136" y="1466"/></g><g id="n28-3"><use href="#E" x="188" y="1466" class="t"/><use href="#Lw" x="188" y="1466"/></g><g id="n28-4"><use href="#E" x="240" y="1466" class="t"/><use href="#Lw" x="240" y="1466"/></g><g id="n28-5"><use href="#E" x="292" y="1466" class="t"/><use href="#Lw" x="292" y="1466"/></g><g id="n28-6"><use href="#E" x="344" y="1466" class="t"/><use href="#Lw" x="344" y="1466"/></g><g id="n28-7"><use href="#E" x="396" y="1466" class="t"/><use href="#Lw" x="396" y="1466"/></g><g id="n28-8"><use href="#E" x="448" y="1466" class="t"/><use href="#Lw" x="448" y="1466"/></g><g id="n28-9"><use href="#E" x="500" y="1466" class="t"/><use href="#Lw" x="500" y="1466"/></g><g id="n28-10"><use href="#E" x="552" y="1466" class="t"/><use href="#Lw" x="552" y="1466"/></g>
</g>
<text class="wm" x="318" y="768">BRACELETBOOK.COM</text>
</svg>
